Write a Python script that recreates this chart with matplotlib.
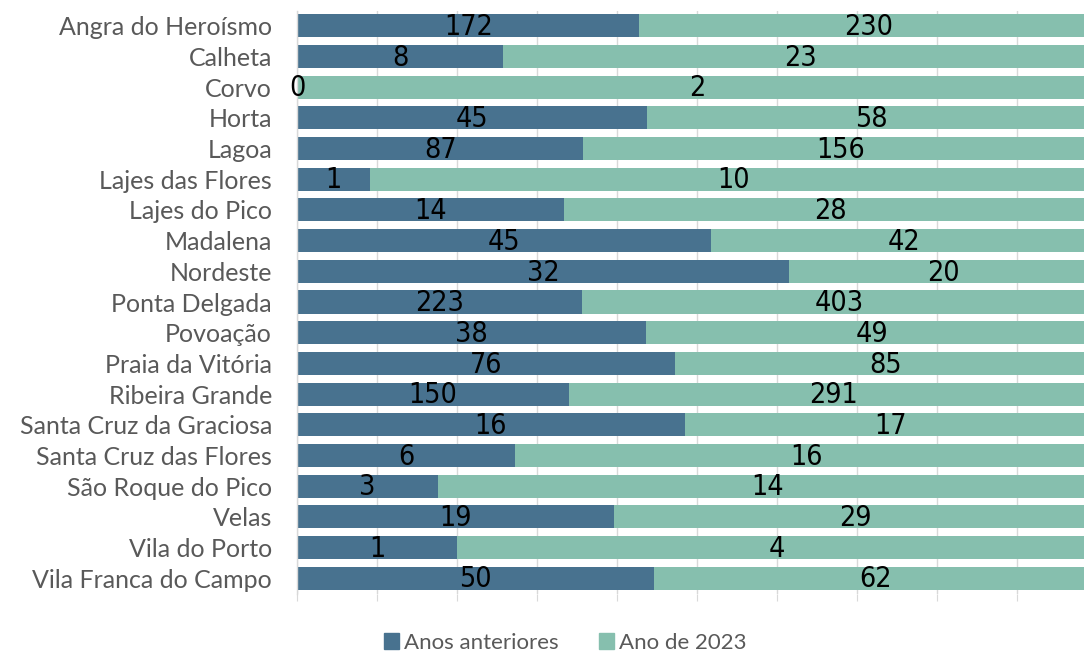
import matplotlib
matplotlib.use("Agg")
import matplotlib.pyplot as plt
from matplotlib.patches import Patch
import numpy as np

categories = ["Angra do Heroísmo", "Calheta", "Corvo", "Horta", "Lagoa",
              "Lajes das Flores", "Lajes do Pico", "Madalena", "Nordeste",
              "Ponta Delgada", "Povoação", "Praia da Vitória", "Ribeira Grande",
              "Santa Cruz da Graciosa", "Santa Cruz das Flores", "São Roque do Pico",
              "Velas", "Vila do Porto", "Vila Franca do Campo"]
anos_anteriores = [172, 8, 0, 45, 87, 1, 14, 45, 32, 223, 38, 76, 150, 16, 6, 3, 19, 1, 50]
ano_2023 = [230, 23, 2, 58, 156, 10, 28, 42, 20, 403, 49, 85, 291, 17, 16, 14, 29, 4, 62]
series_names = ["Anos anteriores", "Ano de 2023"]

c_blue = "#48728F"
c_green = "#86BFAE"

W, H = 1084, 653
fig = plt.figure(figsize=(W / 100, H / 100), dpi=100)
left, right = 297, 1097
top, bottom = 10.5, 593.5
ax = fig.add_axes([left / W, 1 - bottom / H, (right - left) / W, (bottom - top) / H])

a = np.array(anos_anteriores, float)
b = np.array(ano_2023, float)
tot = a + b
pa = a / tot
pb = b / tot
y = np.arange(len(categories))

ax.barh(y, pa, height=0.75, color=c_blue, zorder=2)
ax.barh(y, pb, left=pa, height=0.75, color=c_green, zorder=2)

lab_font = dict(family="DejaVu Sans", stretch="condensed", fontsize=20.5, color="black")
for i in range(len(categories)):
    ax.text(pa[i] / 2, y[i] + 0.04, f"{anos_anteriores[i]}", ha="center", va="center", zorder=3, **lab_font)
    ax.text(pa[i] + pb[i] / 2, y[i] + 0.04, f"{ano_2023[i]}", ha="center", va="center", zorder=3, **lab_font)

ax.set_xlim(0, 1)
ax.set_ylim(len(categories) - 0.5, -0.5)
ax.set_xticks(np.arange(0, 1.01, 0.1))
ax.set_xticklabels([])
ax.grid(axis="x", color="#D9D9D9", linewidth=1, zorder=0)
ax.tick_params(axis="x", length=5, color="#D9D9D9", direction="out")
ax.tick_params(axis="y", length=0, pad=18)
ax.set_yticks(y)
ax.set_yticklabels(categories, family=["Lato", "DejaVu Sans"], fontsize=18, color="#595959")
for s in ["top", "right", "bottom"]:
    ax.spines[s].set_visible(False)
ax.spines["left"].set_color("#D9D9D9")
ax.spines["left"].set_linewidth(1)

handles = [Patch(color=c_blue), Patch(color=c_green)]
fig.legend(handles, series_names, loc="center", bbox_to_anchor=(565 / W, 1 - 643 / H),
           ncol=2, frameon=False, handlelength=0.7, handleheight=0.7, handletextpad=0.2,
           columnspacing=1.8, prop=dict(family=["Lato", "DejaVu Sans"], size=16),
           labelcolor="#595959")

fig.savefig("out.png", dpi=100)
